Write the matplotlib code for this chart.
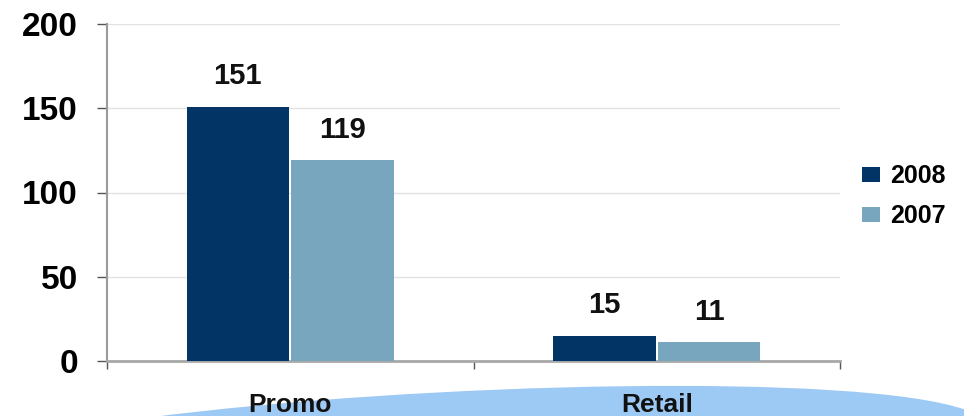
import matplotlib
matplotlib.use('Agg')
import matplotlib.pyplot as plt
from matplotlib.path import Path
from matplotlib.patches import PathPatch

# dados
categorias = ['Promo', 'Retail']
anos = ['2008', '2007']
valores_2008 = [151, 15]
valores_2007 = [119, 11]

cores = ['#023466', '#79A6BF']

plt.rcParams['font.family'] = ['Liberation Sans', 'DejaVu Sans']
plt.rcParams['font.weight'] = 'bold'

W, H = 964, 416
fig = plt.figure(figsize=(W / 100, H / 100), dpi=100)
ax = fig.add_axes([107 / W, 1 - 361 / H, (840 - 107) / W, (361 - 24) / H])
ax.set_facecolor('none')

x = list(range(len(categorias)))
larg = 0.28
desl = 0.143
b1 = ax.bar([i - desl for i in x], valores_2008, larg, color=cores[0], label=anos[0], zorder=3)
b2 = ax.bar([i + desl for i in x], valores_2007, larg, color=cores[1], label=anos[1], zorder=3)

for barras in (b1, b2):
    for p in barras:
        ax.annotate(f"{p.get_height():.0f}", (p.get_x() + p.get_width() / 2., p.get_height()),
                    ha='center', va='bottom', xytext=(0, 12), textcoords='offset points',
                    fontsize=21, fontweight='bold', color='#111111')

ax.set_ylim(0, 200)
ax.set_xlim(-0.5, 1.5)
ax.set_yticks([0, 50, 100, 150, 200])
ax.tick_params(axis='y', labelsize=24, length=7, width=1, color='#555555', pad=14)
ax.set_xticks([-0.5, 0.5, 1.5])
ax.set_xticklabels([])
ax.tick_params(axis='x', length=6, width=1, color='#555555', direction='out')
for lbl in ax.get_yticklabels():
    lbl.set_fontweight('bold')

ax.grid(axis='y', color='#E2E2E2', linewidth=1, zorder=0)
ax.spines['top'].set_visible(False)
ax.spines['right'].set_visible(False)
ax.spines['left'].set_color('#9A9A9A')
ax.spines['left'].set_linewidth(1.5)
ax.spines['bottom'].set_color('#A8A8A8')
ax.spines['bottom'].set_linewidth(2)

# arco decorativo azul no rodapé
def fc(px, py):
    return (px / W, 1 - py / H)

verts = [fc(145, 418), fc(420, 382), fc(860, 372), fc(966, 410), fc(966, 418), fc(145, 418)]
codes = [Path.MOVETO, Path.CURVE4, Path.CURVE4, Path.CURVE4, Path.LINETO, Path.CLOSEPOLY]
arco = PathPatch(Path(verts, codes), transform=fig.transFigure, facecolor='#9DC9F5',
                 edgecolor='none', zorder=0.5)
fig.patches.append(arco)

# rótulos das categorias
for i, cat in enumerate(categorias):
    xc = ax.transData.transform((i, 0))[0] / W
    fig.text(xc, 1 - 405 / H, cat, ha='center', va='center', fontsize=19,
             fontweight='bold', color='#111111', zorder=3)

fig.legend(handles=[b1, b2], labels=anos, loc='center left',
           bbox_to_anchor=(862 / W, 1 - 196 / H), frameon=False,
           borderaxespad=0, borderpad=0,
           handlelength=0.72, handleheight=0.55, handletextpad=0.4, labelspacing=0.65,
           prop={'weight': 'bold', 'size': 18})

fig.savefig('out.png', dpi=100)
